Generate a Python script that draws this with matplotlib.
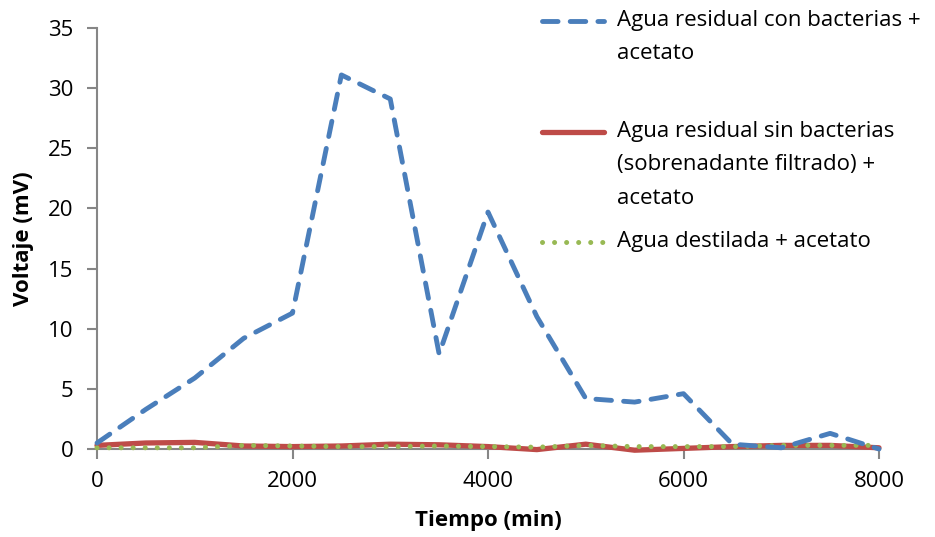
import matplotlib
matplotlib.use("Agg")
import matplotlib.pyplot as plt
from matplotlib.lines import Line2D

plt.rcParams['font.family'] = ['Open Sans', 'DejaVu Sans']

# Tiempo (min)
tiempo = [0, 500, 1000, 1500, 2000, 2500, 3000, 3500, 4000, 4500, 5000,
          5500, 6000, 6500, 7000, 7500, 8000]
# Voltaje (mV)
con_bacterias = [0.5, 3.3, 5.9, 9.2, 11.3, 31.1, 29.1, 7.9, 19.7, 11.0, 4.2,
                 3.9, 4.6, 0.4, 0.1, 1.3, 0.0]
sin_bacterias = [0.3, 0.5, 0.55, 0.25, 0.2, 0.25, 0.4, 0.35, 0.2, -0.05, 0.4,
                 -0.1, 0.05, 0.2, 0.3, 0.3, 0.1]
destilada = [0.1, 0.1, 0.1, 0.3, 0.25, 0.2, 0.2, 0.25, 0.2, 0.15, 0.3,
             0.2, 0.2, 0.2, 0.3, 0.3, 0.3]

labels = ["Agua residual con bacterias +\nacetato",
          "Agua residual sin bacterias\n(sobrenadante filtrado) +\nacetato",
          "Agua destilada + acetato"]

azul = "#4A7EBB"
rojo = "#BE4B48"
verde = "#98B954"
gris = "#868686"

estilo_azul = dict(color=azul, lw=3.5, linestyle=(0, (3.2, 2.5)), dash_capstyle="round")
estilo_rojo = dict(color=rojo, lw=3.8, solid_capstyle="round")
estilo_verde = dict(color=verde, lw=3.6, linestyle=(0, (0.01, 2.4)), dash_capstyle="round")

fig = plt.figure(figsize=(9.35, 5.37), dpi=100)
ax = fig.add_axes([97 / 935, 1 - 449 / 537, (879 - 97) / 935, (449 - 28) / 537])

ax.plot(tiempo, sin_bacterias, clip_on=False, zorder=2, **estilo_rojo)
ax.plot(tiempo, destilada, clip_on=False, zorder=3, **estilo_verde)
ax.plot(tiempo, con_bacterias, clip_on=False, zorder=4, **estilo_azul)

ax.set_xlim(0, 8000)
ax.set_ylim(0, 35)
ax.set_xticks([0, 2000, 4000, 6000, 8000])
ax.set_yticks(range(0, 36, 5))
for s in ["top", "right"]:
    ax.spines[s].set_visible(False)
for s in ["left", "bottom"]:
    ax.spines[s].set_color(gris)
    ax.spines[s].set_linewidth(1.5)
    ax.spines[s].set_zorder(1)
ax.tick_params(direction="out", length=7, width=1.5, color=gris,
               labelsize=16, labelcolor="black")
ax.tick_params(axis="x", pad=9)
ax.tick_params(axis="y", pad=10)
ax.set_xlabel("Tiempo (min)", fontsize=16, fontweight="bold")
ax.set_ylabel("Voltaje (mV)", fontsize=16, fontweight="bold")
ax.xaxis.set_label_coords(0.5, -0.171)
ax.yaxis.set_label_coords(-0.094, 0.5)
ax.xaxis.label.set_va("center")
ax.yaxis.label.set_va("center")

# leyenda a la derecha
entradas = [(21, estilo_azul), (132, estilo_rojo), (242, estilo_verde)]
for (ypix, estilo), texto in zip(entradas, labels):
    yf = 1 - ypix / 537
    fig.add_artist(Line2D([542 / 935, 604 / 935], [yf, yf], transform=fig.transFigure,
                          **estilo))
    fig.text(617 / 935, yf + 11 / 537, texto, fontsize=16, va="top", ha="left",
             linespacing=1.78)

fig.savefig("out.png", dpi=100)
